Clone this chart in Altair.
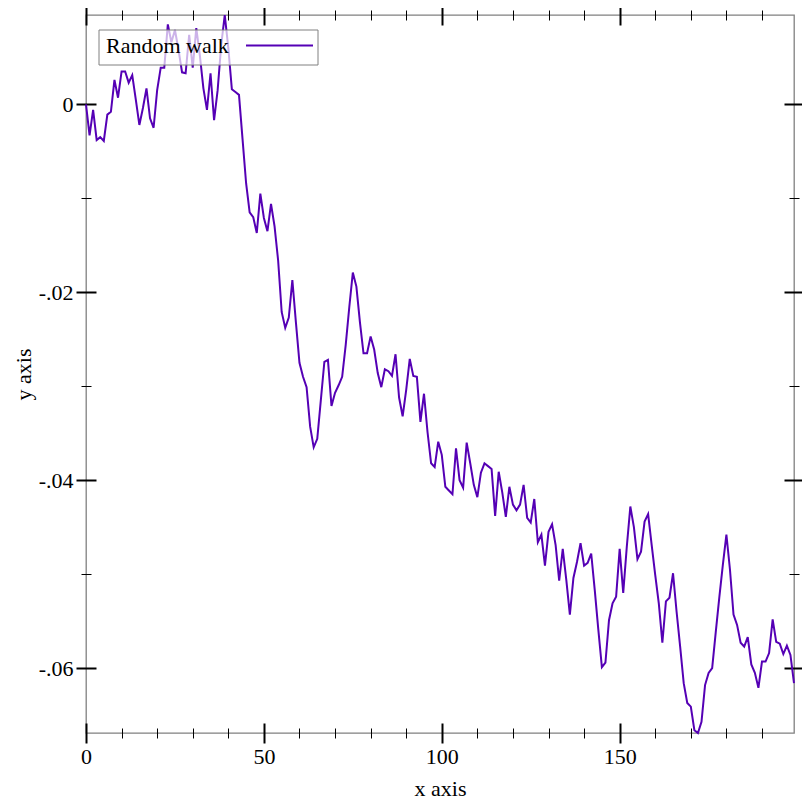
import altair as alt
import pandas as pd

# ---- data ----
X_VALUES = list(range(200))
Y_VALUES = [
    0.0000, -0.0033, -0.0006, -0.0038, -0.0035, -0.0039, -0.0011, -0.0008, 0.0026, 0.0007,
    0.0035, 0.0035, 0.0023, 0.0031, 0.0005, -0.0022, -0.0004, 0.0017, -0.0015, -0.0025,
    0.0015, 0.0039, 0.0039, 0.0085, 0.0066, 0.0079, 0.0058, 0.0034, 0.0033, 0.0074,
    0.0039, 0.0081, 0.0052, 0.0017, -0.0006, 0.0033, -0.0017, 0.0015, 0.0063, 0.0095,
    0.0060, 0.0016, 0.0013, 0.0010, -0.0037, -0.0084, -0.0115, -0.0120, -0.0137, -0.0095,
    -0.0121, -0.0135, -0.0106, -0.0130, -0.0166, -0.0221, -0.0238, -0.0227, -0.0187, -0.0232,
    -0.0275, -0.0290, -0.0301, -0.0343, -0.0365, -0.0356, -0.0315, -0.0274, -0.0272, -0.0321,
    -0.0307, -0.0299, -0.0290, -0.0256, -0.0216, -0.0179, -0.0194, -0.0232, -0.0265, -0.0265,
    -0.0247, -0.0261, -0.0286, -0.0301, -0.0282, -0.0284, -0.0289, -0.0266, -0.0312, -0.0332,
    -0.0304, -0.0271, -0.0289, -0.0290, -0.0338, -0.0308, -0.0349, -0.0382, -0.0386, -0.0359,
    -0.0373, -0.0407, -0.0411, -0.0415, -0.0366, -0.0400, -0.0408, -0.0360, -0.0382, -0.0405,
    -0.0418, -0.0392, -0.0382, -0.0385, -0.0388, -0.0438, -0.0391, -0.0413, -0.0439, -0.0407,
    -0.0426, -0.0432, -0.0426, -0.0405, -0.0440, -0.0445, -0.0420, -0.0466, -0.0458, -0.0491,
    -0.0455, -0.0447, -0.0469, -0.0507, -0.0473, -0.0506, -0.0543, -0.0504, -0.0487, -0.0467,
    -0.0491, -0.0488, -0.0478, -0.0517, -0.0559, -0.0599, -0.0594, -0.0549, -0.0531, -0.0524,
    -0.0473, -0.0520, -0.0471, -0.0428, -0.0450, -0.0484, -0.0476, -0.0444, -0.0436, -0.0469,
    -0.0501, -0.0531, -0.0573, -0.0529, -0.0525, -0.0499, -0.0540, -0.0577, -0.0616, -0.0637,
    -0.0641, -0.0666, -0.0669, -0.0657, -0.0618, -0.0605, -0.0600, -0.0562, -0.0525, -0.0490,
    -0.0458, -0.0495, -0.0543, -0.0554, -0.0573, -0.0577, -0.0567, -0.0596, -0.0605, -0.0621,
    -0.0593, -0.0593, -0.0584, -0.0548, -0.0572, -0.0574, -0.0585, -0.0576, -0.0586, -0.0616,
]
SERIES_NAME = "Random walk"
X_TITLE = "x axis"
Y_TITLE = "y axis"
X_MAJOR = [0, 50, 100, 150]
X_MINOR = [0, 10, 20, 30, 40, 50, 60, 70, 80, 90, 100, 110, 120, 130, 140, 150, 160, 170, 180, 190]
Y_MAJOR = [0, -0.02, -0.04, -0.06]
Y_MINOR = [-0.01, -0.03, -0.05]

FONT = "Liberation Serif"
FS = 22
LINE_COLOR = "#5500b5"
FRAME = "#808080"

df = pd.DataFrame({"x": X_VALUES, "y": Y_VALUES})

xs = alt.Scale(domain=[min(X_VALUES), max(X_VALUES)], nice=False, zero=False, padding=0)
ys = alt.Scale(domain=[min(Y_VALUES), max(Y_VALUES)], nice=False, zero=False, padding=0)

Y_LABEL_EXPR = "datum.value == 0 ? '0' : '-.' + format(abs(datum.value) * 100, '02d')"


def tick_axis(orient, values, size, width):
    return alt.Axis(
        orient=orient, values=values, offset=-size / 2, tickSize=size,
        tickWidth=width, tickColor="black", labels=False, domain=False,
        grid=False, title=None,
    )


x_lab = alt.Axis(
    orient="bottom", values=X_MAJOR, ticks=False, domain=False, grid=False,
    labelPadding=13, labelFont=FONT, labelFontSize=FS, labelColor="black",
    labelFlush=False, labelOverlap=False,
    title=X_TITLE, titleFont=FONT, titleFontSize=FS, titleFontWeight="normal",
    titleColor="black", titlePadding=11,
)
y_lab = alt.Axis(
    orient="left", values=Y_MAJOR, ticks=False, domain=False, grid=False,
    labelPadding=13, labelFont=FONT, labelFontSize=FS, labelColor="black",
    labelExpr=Y_LABEL_EXPR, labelFlush=False, labelOverlap=False,
    title=Y_TITLE, titleFont=FONT, titleFontSize=FS, titleFontWeight="normal",
    titleColor="black", titlePadding=3,
)

line = alt.Chart(df).mark_line(color=LINE_COLOR, strokeWidth=2).encode(
    x=alt.X("x:Q", scale=xs, axis=x_lab),
    y=alt.Y("y:Q", scale=ys, axis=y_lab),
)


def ghost(xaxis, yaxis):
    return alt.Chart(df).mark_point(opacity=0, size=1).encode(
        x=alt.X("x:Q", scale=xs, axis=xaxis),
        y=alt.Y("y:Q", scale=ys, axis=yaxis),
    )


g1 = ghost(tick_axis("bottom", X_MAJOR, 20, 2), tick_axis("left", Y_MAJOR, 20, 2))
g2 = ghost(tick_axis("bottom", X_MINOR, 10, 1), tick_axis("left", Y_MINOR, 10, 1))
g3 = ghost(tick_axis("top", X_MAJOR, 20, 2), tick_axis("right", Y_MAJOR, 20, 2))
g4 = ghost(tick_axis("top", X_MINOR, 10, 1), tick_axis("right", Y_MINOR, 10, 1))

leg_df = pd.DataFrame({"label": [SERIES_NAME]})
leg_box = alt.Chart(leg_df).mark_rect(
    fill="white", fillOpacity=0.7, stroke=FRAME, strokeWidth=1
).encode(x=alt.value(13), x2=alt.value(232), y=alt.value(15), y2=alt.value(50))
leg_text = alt.Chart(leg_df).mark_text(
    font=FONT, fontSize=FS, color="black", align="left", baseline="alphabetic"
).encode(x=alt.value(20), y=alt.value(38), text="label:N")
leg_line = alt.Chart(leg_df).mark_rule(color=LINE_COLOR, strokeWidth=2).encode(
    x=alt.value(160), x2=alt.value(227), y=alt.value(30.5)
)

chart = (
    alt.layer(line, g1, g2, g3, g4, leg_box, leg_text, leg_line)
    .resolve_axis(x="independent", y="independent")
    .properties(
        width=708, height=718,
        padding={"left": 78, "top": 7, "right": 8, "bottom": 71},
        autosize=alt.AutoSizeParams(type="none"),
        background="white",
    )
    .configure_view(stroke=FRAME, strokeWidth=1.3)
)

chart.save("out.html", embed_options={"renderer": "svg", "actions": False})
